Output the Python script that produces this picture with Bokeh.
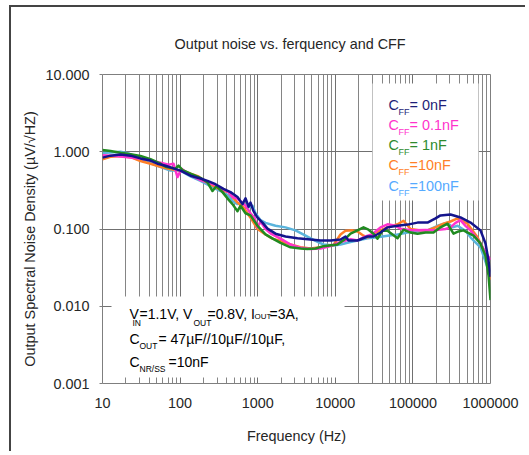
from bokeh.plotting import figure
from bokeh.models import Label, BoxAnnotation, FixedTicker, PrintfTickFormatter
from bokeh.embed import file_html
from bokeh.resources import INLINE

FONT = "Liberation Sans"

# ---------------- data ----------------
x_major = [10, 100, 1000, 10000, 100000, 1000000]
x_minor = [m * d for d in (10, 100, 1000, 10000, 100000) for m in range(2, 10)]
y_major = [0.001, 0.01, 0.1, 1, 10]

freq_0nF = [10, 12.68, 17.06, 22.96, 30.88, 41.56, 51.15, 64.84, 82.22, 101.2, 136.2, 183.2,
            225.5, 286.0, 362.6, 446.2, 549.4, 637.3, 696.5, 761.4, 807.9, 883.1, 994.3,
            1153, 1338, 1696, 2282, 3259, 4793, 6448, 8678, 11670, 13540, 14800, 19330,
            26010, 31070, 38240, 47090, 63350, 85230, 114700, 154300, 195600, 226900,
            305300, 410700, 552600, 743400, 862500, 942900, 1000000]
noise_0nF = [0.84, 0.89, 0.92, 0.89, 0.82, 0.77, 0.70, 0.66, 0.61, 0.57, 0.49, 0.45,
             0.42, 0.38, 0.33, 0.30, 0.26, 0.21, 0.25, 0.195, 0.22, 0.17, 0.14,
             0.121, 0.101, 0.087, 0.080, 0.076, 0.073, 0.071, 0.071, 0.073, 0.080, 0.071, 0.071,
             0.080, 0.080, 0.090, 0.105, 0.110, 0.114, 0.121, 0.121, 0.137, 0.150,
             0.154, 0.141, 0.121, 0.096, 0.065, 0.039, 0.024]

freq_01nF = [10, 14.71, 22.96, 35.83, 55.90, 70.89, 82.22, 92.57, 104.3, 136.2, 183.2, 225.5,
             269.5, 331.7, 420.6, 473.5, 533.3, 600.2, 696.5, 807.9, 909.7, 994.3, 1087,
             1261, 1462, 1967, 2648, 3562, 4793, 6448, 8678, 11670, 15710, 19330, 24510,
             30170, 38240, 47090, 59720, 69230, 101800, 145400, 184400, 263200, 305300,
             354000, 410700, 476400, 552600, 743400, 862500, 1000000]
noise_01nF = [0.90, 0.88, 0.84, 0.80, 0.72, 0.68, 0.70, 0.47, 0.60, 0.50, 0.43, 0.40,
              0.38, 0.34, 0.30, 0.26, 0.25, 0.23, 0.20, 0.16, 0.14, 0.105, 0.125,
              0.100, 0.088, 0.075, 0.063, 0.057, 0.055, 0.056, 0.060, 0.068, 0.074, 0.071, 0.080,
              0.086, 0.105, 0.115, 0.110, 0.101, 0.096, 0.097, 0.096, 0.100, 0.105,
              0.120, 0.130, 0.110, 0.096, 0.065, 0.050, 0.040]

freq_1nF = [10, 12.68, 17.06, 22.96, 30.88, 41.56, 55.90, 64.84, 75.21, 87.27, 95.37, 107.4,
            136.2, 183.2, 225.5, 261.6, 294.5, 352.0, 420.6, 473.5, 549.4, 600.2, 696.5,
            807.9, 994.3, 1261, 1462, 1967, 2648, 3562, 4385, 5559, 7048, 10680, 13540,
            15710, 19330, 23100, 26790, 31070, 34990, 40590, 47090, 54620, 63350, 75680,
            93160, 114700, 145400, 184400, 226900, 279300, 333700, 387100, 449000, 604000,
            743400, 862500, 942900, 1000000]
noise_1nF = [1.05, 1.02, 0.97, 0.93, 0.88, 0.80, 0.70, 0.64, 0.62, 0.60, 0.66, 0.58,
             0.52, 0.46, 0.40, 0.31, 0.36, 0.30, 0.24, 0.21, 0.17, 0.20, 0.16,
             0.15, 0.11, 0.085, 0.078, 0.066, 0.058, 0.056, 0.055, 0.056, 0.060, 0.063, 0.075,
             0.087, 0.096, 0.105, 0.098, 0.087, 0.075, 0.095, 0.095, 0.085, 0.076, 0.098,
             0.090, 0.087, 0.090, 0.090, 0.105, 0.117, 0.087, 0.093, 0.096, 0.082,
             0.065, 0.045, 0.025, 0.012]

freq_10nF = [10, 12.68, 17.06, 22.96, 30.88, 41.56, 55.90, 70.89, 87.27, 107.4, 136.2, 172.7,
             200.3, 232.3, 269.5, 331.7, 420.6, 487.8, 549.4, 656.5, 807.9, 994.3, 1261,
             1551, 1967, 2648, 3562, 4793, 6448, 9485, 11670, 13540, 16670, 19330, 23100,
             26010, 32980, 47090, 63350, 75680, 93160, 125300, 154300, 195600, 248000,
             305300, 375800, 449000, 505500, 680000, 862500, 1000000]
noise_10nF = [0.80, 0.86, 0.88, 0.85, 0.76, 0.70, 0.64, 0.60, 0.58, 0.57, 0.52, 0.48,
              0.42, 0.40, 0.36, 0.32, 0.30, 0.25, 0.22, 0.19, 0.14, 0.10, 0.085,
              0.075, 0.070, 0.063, 0.058, 0.056, 0.058, 0.062, 0.085, 0.095, 0.096, 0.093, 0.082,
              0.078, 0.090, 0.105, 0.115, 0.128, 0.100, 0.096, 0.096, 0.105, 0.117,
              0.125, 0.137, 0.125, 0.117, 0.078, 0.048, 0.022]

freq_100nF = [10, 12.68, 17.06, 21.63, 26.63, 35.83, 48.19, 64.84, 75.21, 101.2, 136.2, 183.2,
              246.6, 331.7, 420.6, 473.5, 549.4, 637.3, 761.4, 857.3, 937.0, 1087, 1261,
              1696, 2282, 3070, 4132, 5559, 7048, 9485, 11670, 15710, 19330, 26010, 34990,
              47090, 63350, 85230, 114700, 154300, 207600, 279300, 323900, 375800, 476400,
              552600, 743400, 915300, 1000000]
noise_100nF = [0.96, 0.98, 1.00, 0.95, 0.87, 0.75, 0.67, 0.60, 0.57, 0.57, 0.48, 0.42,
               0.36, 0.31, 0.27, 0.23, 0.21, 0.22, 0.19, 0.20, 0.16, 0.13, 0.12,
               0.110, 0.105, 0.096, 0.082, 0.070, 0.063, 0.061, 0.063, 0.068, 0.071, 0.076, 0.078,
               0.082, 0.085, 0.090, 0.093, 0.096, 0.110, 0.121, 0.105, 0.110, 0.095,
               0.078, 0.058, 0.032, 0.025]

series_labels = ["= 0nF", "= 0.1nF", "= 1nF", "=10nF", "=100nF"]

# ---------------- figure ----------------
W, H = 516, 446
OX, OY = 11, 7           # page position of the canvas origin
FL, FR, FT, FB = 102, 490, 74, 383   # frame edges on the page
TXT = "14.4px"

p = figure(width=W, height=H, x_axis_type="log", y_axis_type="log",
           x_range=(10, 1e6), y_range=(0.001, 10),
           output_backend="svg", toolbar_location=None,
           min_border_left=FL - OX, min_border_right=W - (FR - OX),
           min_border_top=FT - OY, min_border_bottom=H - (FB - OY))
p.styles = {"border-left": "2px solid #444444", "border-top": "2px solid #444444",
            "margin-left": "9px", "margin-top": "5px"}
p.background_fill_color = "white"
p.border_fill_color = "white"
p.outline_line_color = "#7f7f7f"

p.title.text = "Output noise vs. ferquency and CFF"
p.title.align = "left"
p.title.offset = 72
p.title.text_font = FONT
p.title.text_font_size = TXT
p.title.text_font_style = "normal"
p.title.text_color = "#262626"
p.title.standoff = 45

xt = FixedTicker(ticks=x_major, minor_ticks=x_minor)
yt = FixedTicker(ticks=y_major, minor_ticks=[])
p.xaxis.ticker = xt
p.yaxis.ticker = yt
p.xgrid.ticker = xt
p.ygrid.ticker = yt
p.xaxis.formatter = PrintfTickFormatter(format="%d")
p.yaxis.formatter = PrintfTickFormatter(format="%.3f")

p.xgrid.grid_line_color = "#707070"
p.xgrid.minor_grid_line_color = "#858585"
p.ygrid.grid_line_color = "#707070"
p.ygrid.minor_grid_line_color = None

p.axis.axis_line_color = None
p.xaxis.major_tick_line_color = None
p.xaxis.minor_tick_line_color = None
p.yaxis.minor_tick_line_color = None
p.yaxis.major_tick_line_color = "#7f7f7f"
p.yaxis.major_tick_out = 3
p.yaxis.major_tick_in = 0
p.axis.major_label_text_font = FONT
p.axis.major_label_text_font_size = TXT
p.axis.major_label_text_color = "#262626"
p.xaxis.major_label_standoff = 8
p.yaxis.major_label_standoff = 10

p.xaxis.axis_label = "Frequency (Hz)"
p.yaxis.axis_label = "Output Spectral Noise Density (µV/√HZ)" + "\u00a0" * 5
p.axis.axis_label_text_font = FONT
p.axis.axis_label_text_font_size = TXT
p.axis.axis_label_text_font_style = "normal"
p.axis.axis_label_text_color = "#262626"
p.xaxis.axis_label_standoff = 17
p.yaxis.axis_label_standoff = 4

# ---------------- curves ----------------
p.line(freq_100nF, noise_100nF, line_color="#5ab4dc", line_width=2.5, line_join="round")
p.line(freq_10nF, noise_10nF, line_color="#ff7f27", line_width=2.5, line_join="round")
p.line(freq_01nF, noise_01nF, line_color="#ff33cc", line_width=2.5, line_join="round")
p.line(freq_1nF, noise_1nF, line_color="#208a20", line_width=2.5, line_join="round")
p.line(freq_0nF, noise_0nF, line_color="#14148c", line_width=2.5, line_join="round")

# white boxes for legend and condition note
p.add_layout(BoxAnnotation(left=30170, right=700800, top=7.65, bottom=0.234,
                           fill_color="white", fill_alpha=1.0, line_color=None))
p.add_layout(BoxAnnotation(left=13.06, right=13150, top=0.01337, bottom=0.001197,
                           fill_color="white", fill_alpha=1.0, line_color=None))


def put(text, px, py, size, color="#000000", align="left"):
    p.add_layout(Label(x=px - OX, y=py - OY, x_units="canvas", y_units="canvas",
                       text=text, text_font=FONT, text_font_size=f"{size}px",
                       text_color=color, text_align=align, text_baseline="middle"))


# legend
leg_colors = ["#1e1e78", "#ff33cc", "#2e8b2e", "#ff7f27", "#55aaff"]
leg_y = [102, 122, 142, 162, 183]
for lab, col, yy in zip(series_labels, leg_colors, leg_y):
    put("C", 386, yy, 14.4, col)
    put("FF", 396, yy + 7, 9, col)
    put(lab, 407, yy, 14.4, col)

# condition note
put("V", 127, 311, 14)
put("IN", 130, 320, 8.5)
put("=1.1V, V", 137, 311, 14)
put("OUT", 191, 320, 8.5)
put("=0.8V, I", 205, 311, 14)
put("OUT", 252, 314, 8)
put("=3A,", 267, 311, 14)

put("C", 127, 336, 14)
put("OUT", 137, 343, 8.5)
put("= 47µF//10µF//10µF,", 156, 336, 14)

put("C", 127, 359.5, 14)
put("NR/SS", 137, 366, 8.5)
put("=10nF", 166, 359.5, 14)

open("out.html", "w").write(file_html(p, INLINE))
